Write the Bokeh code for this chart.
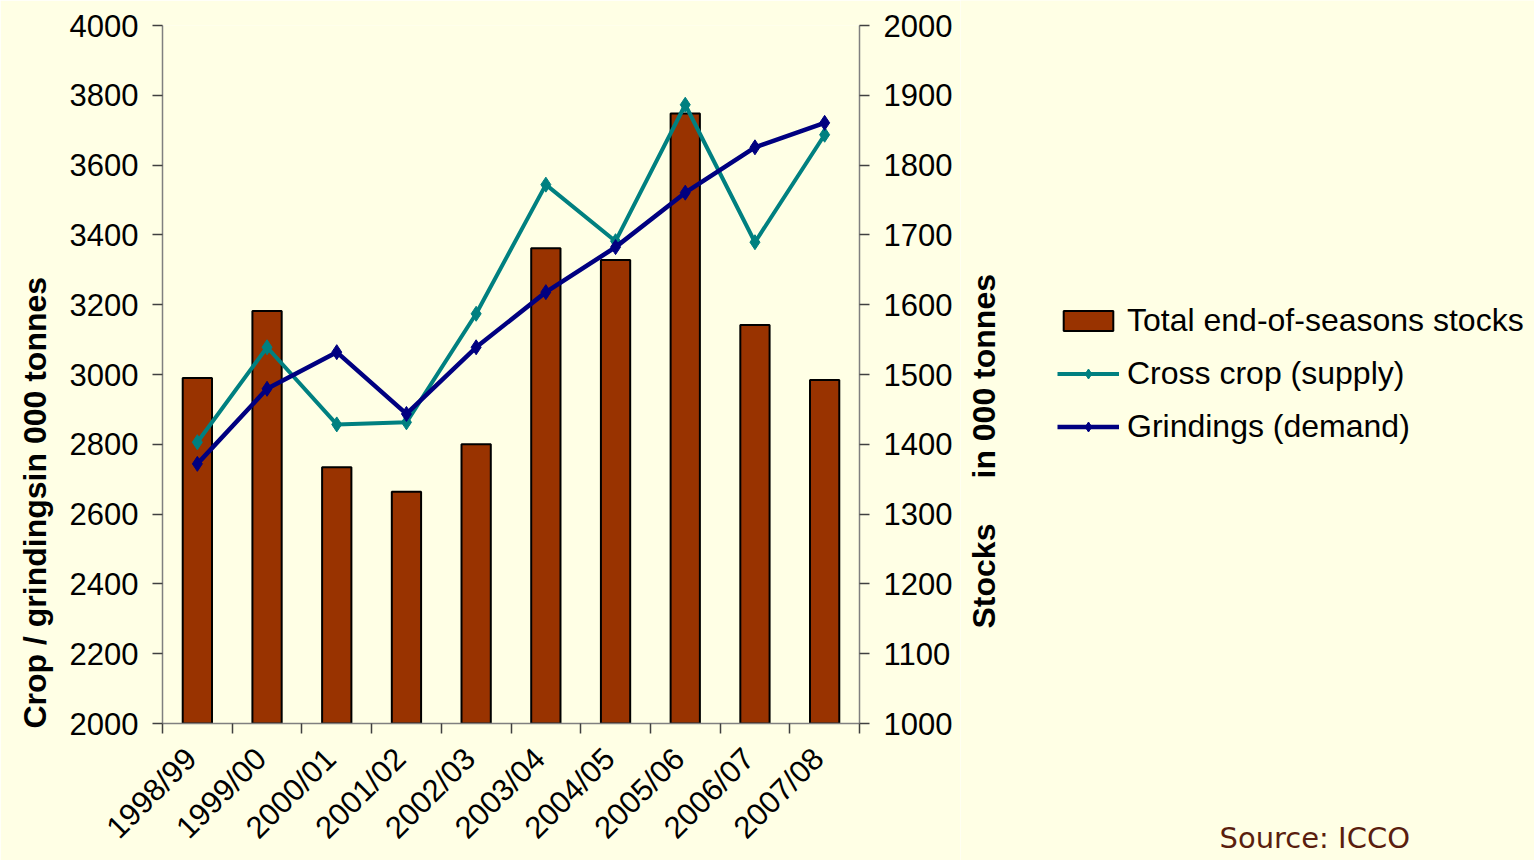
import math
from bokeh.plotting import figure
from bokeh.layouts import row
from bokeh.models import (Range1d, LinearAxis, FixedTicker, Legend, LegendItem,
                          Label, Title, ColumnDataSource)
from bokeh.embed import file_html
from bokeh.resources import INLINE

# Cocoa market seasons
seasons = ["1998/99", "1999/00", "2000/01", "2001/02", "2002/03",
           "2003/04", "2004/05", "2005/06", "2006/07", "2007/08"]

# Total end-of-season stocks (000 tonnes, right axis)
stocks = [1495, 1591, 1367, 1332, 1400, 1681, 1664, 1874, 1571, 1492]

# Gross crop / supply (000 tonnes, left axis)
crop = [2806, 3078, 2857, 2863, 3174, 3544, 3382, 3773, 3379, 3687]

# Grindings / demand (000 tonnes, left axis)
grindings = [2744, 2959, 3064, 2887, 3078, 3236, 3365, 3521, 3651, 3721]

left_ticks = list(range(2000, 4001, 200))
right_ticks = list(range(1000, 2001, 100))

BG = "#FFFFE5"
AXIS_GREY = "#808080"
FONT = "Liberation Sans"
BAR_COLOR = "#993300"
CROP_COLOR = "#008080"
GRIND_COLOR = "#000080"

idx = list(range(len(seasons)))
src = ColumnDataSource(dict(x=idx, season=seasons, stocks=stocks,
                            crop=crop, grindings=grindings))

# ---------------- main chart ----------------
p = figure(width=960, height=860, output_backend="svg", toolbar_location=None,
           x_range=Range1d(-0.5, len(seasons) - 0.5),
           y_range=Range1d(2000, 4000),
           min_border_left=161, min_border_right=101,
           min_border_top=25, min_border_bottom=137)
p.extra_y_ranges = {"stocks": Range1d(1000, 2000)}
p.frame_align = False

p.background_fill_color = BG
p.border_fill_color = BG
p.outline_line_color = None
p.grid.visible = False

bar_style = dict(fill_color=BAR_COLOR, line_color="#000000", line_width=2)
crop_line_style = dict(line_color=CROP_COLOR, line_width=4)
crop_pt_style = dict(marker="diamond", fill_color=CROP_COLOR, line_color=CROP_COLOR)
grind_line_style = dict(line_color=GRIND_COLOR, line_width=4.5)
grind_pt_style = dict(marker="diamond", fill_color=GRIND_COLOR, line_color=GRIND_COLOR)

# Stocks as bars on the secondary scale
p.vbar(x="x", top="stocks", bottom=1000, width=0.42, source=src,
       y_range_name="stocks", **bar_style)

# Supply and demand lines with diamond markers
p.line("x", "crop", source=src, **crop_line_style)
p.scatter("x", "crop", source=src, size=15, **crop_pt_style)
p.line("x", "grindings", source=src, **grind_line_style)
p.scatter("x", "grindings", source=src, size=15, **grind_pt_style)

# Bottom axis: labels near season centres, tick marks at season boundaries
label_shift = -0.09
label_pos = [i + label_shift for i in idx]
xa = p.xaxis[0]
xa.ticker = FixedTicker(ticks=label_pos,
                        minor_ticks=[i - 0.5 for i in range(len(seasons) + 1)])
xa.major_label_overrides = {pos: s for pos, s in zip(label_pos, seasons)}
xa.major_label_orientation = math.pi / 4
xa.major_tick_line_color = None
xa.minor_tick_line_color = "#404040"
xa.minor_tick_line_width = 1.5
xa.minor_tick_in = 0
xa.minor_tick_out = 10
xa.major_label_standoff = 20

# Left axis
ya = p.yaxis[0]
ya.ticker = FixedTicker(ticks=left_ticks)

# Right axis for stocks
ra = LinearAxis(y_range_name="stocks", ticker=FixedTicker(ticks=right_ticks))
p.add_layout(ra, "right")

for ax in (xa, ya, ra):
    ax.axis_line_color = AXIS_GREY
    ax.axis_line_width = 1.5
    ax.major_label_text_font = FONT
    ax.major_label_text_font_size = "31px"
    ax.major_label_text_color = "#000000"

for ax in (ya, ra):
    ax.major_tick_line_color = "#404040"
    ax.major_tick_line_width = 1.5
    ax.major_tick_in = 0
    ax.major_tick_out = 10
    ax.minor_tick_line_color = None
    ax.major_label_standoff = 14

# Left axis title
p.add_layout(Title(text="Crop / grindingsin 000 tonnes", align="left", offset=-5,
                   standoff=28, text_font=FONT, text_font_size="32px",
                   text_font_style="bold", text_color="#000000"), "left")

# ---------------- side panel: stocks title, legend, source ----------------
side = figure(width=574, height=860, output_backend="svg", toolbar_location=None,
              x_range=Range1d(0, 574), y_range=Range1d(0, 860),
              x_axis_type=None, y_axis_type=None, min_border=0)
side.frame_align = False
side.background_fill_color = BG
side.border_fill_color = BG
side.outline_line_color = None
side.grid.visible = False

title_style = dict(x_units="screen", y_units="screen", angle=math.pi / 2,
                   text_font=FONT, text_font_size="32px", text_font_style="bold",
                   text_color="#000000", text_align="left", text_baseline="middle")
side.add_layout(Label(x=23, y=232, text="Stocks", **title_style))
side.add_layout(Label(x=23, y=382, text="in 000 tonnes", **title_style))

# Legend swatches share the styles of the chart's renderers
nan = float("nan")
proxy = ColumnDataSource(dict(x=[nan], y=[nan]))
lg_bar = side.vbar(x="x", top="y", width=1, source=proxy, **bar_style)
lg_crop_l = side.line("x", "y", source=proxy, **crop_line_style)
lg_crop_p = side.scatter("x", "y", source=proxy, **crop_pt_style)
lg_grind_l = side.line("x", "y", source=proxy, **grind_line_style)
lg_grind_p = side.scatter("x", "y", source=proxy, **grind_pt_style)

legend = Legend(items=[
    LegendItem(label="Total end-of-seasons stocks", renderers=[lg_bar]),
    LegendItem(label="Cross crop (supply)", renderers=[lg_crop_l, lg_crop_p]),
    LegendItem(label="Grindings (demand)", renderers=[lg_grind_l, lg_grind_p]),
], location=(97, 415))
legend.label_text_font = FONT
legend.label_text_font_size = "32px"
legend.label_text_color = "#000000"
legend.glyph_width = 62
legend.glyph_height = 25
legend.label_standoff = 8
legend.spacing = 16
legend.padding = 0
legend.margin = 0
legend.border_line_color = None
legend.background_fill_alpha = 0
side.add_layout(legend, "center")

# Source note at the foot of the legend column
side.add_layout(Label(x=259, y=23, x_units="screen", y_units="screen",
                      text="Source: ICCO", text_font="DejaVu Sans",
                      text_font_size="29px", text_color="#5A1E0E",
                      text_baseline="alphabetic"))

layout = row(p, side, spacing=0)
open("out.html", "w").write(file_html(layout, INLINE))
